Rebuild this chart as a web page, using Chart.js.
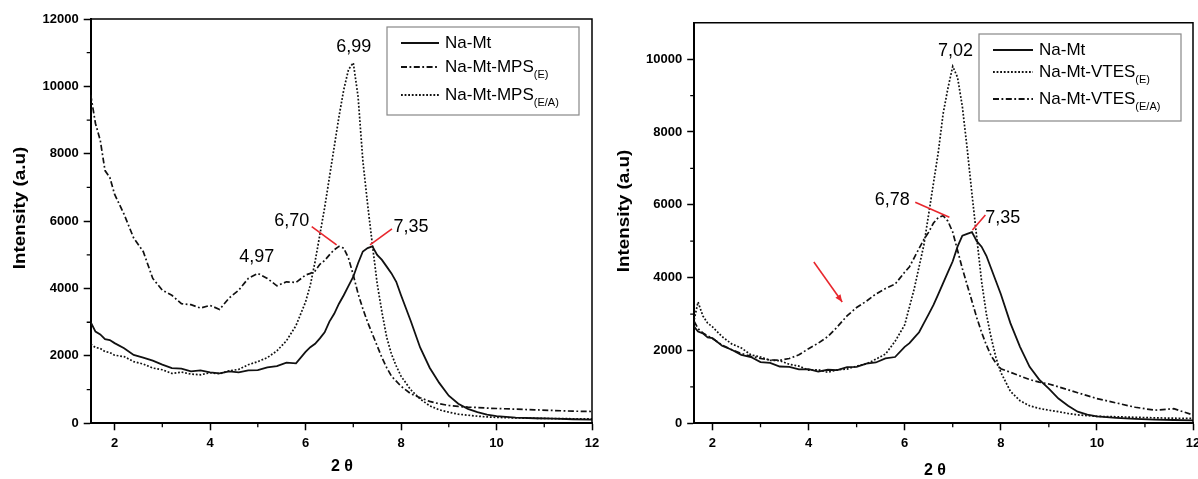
<!DOCTYPE html>
<html>
<head>
<meta charset="utf-8">
<script src="https://cdn.jsdelivr.net/npm/chart.js@4.4.1/dist/chart.umd.min.js"></script>
<style>
  body { margin: 0; background: #fff; width: 1198px; height: 479px; position: relative; overflow: hidden; }
  canvas { position: absolute; top: 0; }
</style>
</head>
<body>
<canvas id="left" width="620" height="479" style="left:0"></canvas>
<canvas id="right" width="620" height="479" style="left:600px"></canvas>
<script>
// ---- data ----
const xTicks = [2, 4, 6, 8, 10, 12];
const leftYTicks = [0, 2000, 4000, 6000, 8000, 10000, 12000];
const rightYTicks = [0, 2000, 4000, 6000, 8000, 10000];

const leftX = [1.5, 1.6, 1.7, 1.8, 1.9, 2.0, 2.2, 2.4, 2.6, 2.8, 3.0, 3.2, 3.4, 3.6, 3.8, 4.0, 4.2, 4.4, 4.6, 4.8,
  5.0, 5.2, 5.4, 5.6, 5.8, 6.0, 6.1, 6.2, 6.3, 6.4, 6.5, 6.6, 6.7, 6.8, 6.9, 7.0, 7.1, 7.2, 7.3, 7.4,
  7.5, 7.6, 7.7, 7.8, 7.9, 8.0, 8.2, 8.4, 8.6, 8.8, 9.0, 9.2, 9.4, 9.6, 9.8, 10.0, 10.4, 10.8, 11.2, 11.6, 12.0];
const leftNaMt = [3000, 2720, 2640, 2500, 2470, 2380, 2230, 2030, 1950, 1860, 1740, 1640, 1620, 1540, 1570, 1510, 1480, 1540, 1510, 1570,
  1580, 1660, 1700, 1800, 1780, 2120, 2260, 2360, 2520, 2700, 3020, 3250, 3550, 3800, 4080, 4350, 4750, 5100, 5200, 5250,
  5000, 4850, 4650, 4450, 4200, 3800, 3050, 2250, 1650, 1200, 820, 580, 430, 330, 260, 210, 170, 150, 140, 120, 110];
const leftMpsE = [9750, 8900, 8400, 7500, 7300, 6800, 6200, 5500, 5100, 4300, 3950, 3800, 3550, 3520, 3420, 3500, 3380, 3720, 3950, 4300,
  4450, 4300, 4080, 4200, 4180, 4400, 4450, 4520, 4720, 4830, 5000, 5150, 5250, 5200, 4900, 4400, 3850, 3400, 3000, 2650,
  2300, 1950, 1650, 1400, 1250, 1100, 880, 760, 650, 580, 530, 500, 480, 470, 450, 440, 420, 400, 380, 360, 350];
const leftMpsEA = [2350, 2250, 2220, 2130, 2100, 2020, 1980, 1830, 1760, 1640, 1590, 1480, 1520, 1460, 1440, 1500, 1470, 1560, 1600, 1740,
  1830, 1950, 2150, 2450, 2900, 3600, 4100, 4800, 5600, 6400, 7300, 8200, 9100, 9900, 10500, 10700, 9700, 7800, 6500, 5300,
  4150, 3300, 2550, 2050, 1700, 1400, 1000, 720, 520, 400, 330, 270, 240, 210, 190, 175, 160, 150, 140, 135, 130];

const rightX = [1.62, 1.7, 1.8, 1.9, 2.0, 2.2, 2.4, 2.6, 2.8, 3.0, 3.2, 3.4, 3.6, 3.8, 4.0, 4.2, 4.4, 4.6, 4.8,
  5.0, 5.2, 5.4, 5.6, 5.8, 6.0, 6.1, 6.2, 6.3, 6.4, 6.5, 6.6, 6.7, 6.8, 6.9, 7.0, 7.1, 7.2, 7.3, 7.4,
  7.5, 7.6, 7.7, 7.8, 7.9, 8.0, 8.2, 8.4, 8.6, 8.8, 9.0, 9.2, 9.4, 9.6, 9.8, 10.0, 10.4, 10.8, 11.2, 11.6, 12.0];
const rightNaMt = [2650, 2520, 2470, 2360, 2340, 2130, 2020, 1880, 1820, 1680, 1660, 1560, 1550, 1480, 1490, 1420, 1470, 1460, 1540,
  1550, 1640, 1670, 1780, 1820, 2100, 2200, 2350, 2500, 2750, 3000, 3250, 3550, 3850, 4150, 4450, 4850, 5150, 5200, 5250,
  5000, 4850, 4600, 4250, 3900, 3550, 2750, 2100, 1550, 1200, 950, 680, 480, 320, 240, 190, 150, 120, 100, 90, 80];
const rightVtesE = [2850, 3330, 2950, 2750, 2650, 2380, 2180, 2070, 1880, 1820, 1730, 1720, 1620, 1570, 1460, 1470, 1400, 1470, 1490,
  1570, 1630, 1760, 1900, 2250, 2700, 3200, 3700, 4300, 4900, 5750, 6600, 7450, 8500, 9200, 9800, 9500, 8700, 7550, 6300,
  5100, 3900, 3000, 2350, 1800, 1400, 880, 620, 480, 410, 360, 320, 270, 230, 210, 190, 180, 165, 150, 140, 135];
const rightVtesEA = [2800, 2600, 2480, 2400, 2330, 2150, 2020, 1920, 1840, 1780, 1740, 1730, 1780, 1880, 2050, 2200, 2380, 2650, 2950,
  3180, 3350, 3550, 3700, 3820, 4150, 4300, 4550, 4800, 5050, 5250, 5500, 5650, 5700, 5550, 5250, 4750, 4250, 3800, 3350,
  2900, 2500, 2150, 1850, 1650, 1500, 1400, 1300, 1200, 1130, 1080, 1000, 920, 840, 760, 680, 560, 440, 360, 400, 230];

const SOLID = [], DOT = [1.8, 1.8], DASHDOT = [6, 2.5, 1.8, 2.5];
const FONT = 'Arial, "Liberation Sans", sans-serif';
const RED = '#e8272d';

// draws frame, minor ticks, axis titles, legend and peak labels
const extrasPlugin = {
  id: 'extras',
  afterDraw(chart, args, o) {
    const { ctx, chartArea: a, scales: { x, y } } = chart;
    ctx.save();
    ctx.strokeStyle = '#000';
    ctx.lineWidth = 1.5;
    ctx.beginPath();
    ctx.moveTo(a.left, a.top);
    ctx.lineTo(a.right, a.top);
    ctx.lineTo(a.right, a.bottom);
    ctx.stroke();

    ctx.lineWidth = 1.3;
    ctx.beginPath();
    o.minorX.forEach(v => {
      const px = x.getPixelForValue(v);
      ctx.moveTo(px, a.bottom); ctx.lineTo(px, a.bottom + 4);
    });
    o.minorY.forEach(v => {
      const py = y.getPixelForValue(v);
      ctx.moveTo(a.left, py); ctx.lineTo(a.left - 4, py);
    });
    ctx.stroke();

    // axis titles
    ctx.fillStyle = '#000';
    ctx.textAlign = 'center';
    ctx.textBaseline = 'middle';
    ctx.font = 'bold 16px ' + FONT;
    ctx.save();
    ctx.translate(o.yTitle[0], o.yTitle[1]);
    ctx.rotate(-Math.PI / 2);
    ctx.scale(1.18, 1);
    ctx.fillText('Intensity (a.u)', 0, 0);
    ctx.restore();
    ctx.font = 'bold 16px ' + FONT;
    ctx.fillText('2 θ', o.xTitle[0], o.xTitle[1]);

    // legend
    const L = o.legend;
    ctx.strokeStyle = '#888';
    ctx.lineWidth = 1.2;
    ctx.strokeRect(L.box[0], L.box[1], L.box[2] - L.box[0], L.box[3] - L.box[1]);
    chart.data.datasets.forEach((ds, i) => {
      const ry = L.rows[i];
      ctx.strokeStyle = '#111';
      ctx.lineWidth = 1.8;
      ctx.setLineDash(ds.borderDash);
      ctx.beginPath();
      ctx.moveTo(L.sample[0], ry); ctx.lineTo(L.sample[1], ry);
      ctx.stroke();
      ctx.setLineDash([]);
      ctx.textAlign = 'left';
      ctx.font = '17px ' + FONT;
      ctx.fillText(ds.label, L.textX, ry);
      if (ds.sub) {
        const w = ctx.measureText(ds.label).width;
        ctx.font = '11px ' + FONT;
        ctx.fillText(ds.sub, L.textX + w, ry + 8);
      }
    });

    // peak labels and red pointers
    ctx.font = '18px ' + FONT;
    ctx.textAlign = 'center';
    o.peaks.forEach(p => {
      ctx.fillText(p.text, x.getPixelForValue(p.at[0]), y.getPixelForValue(p.at[1]));
    });
    ctx.strokeStyle = RED;
    ctx.fillStyle = RED;
    ctx.lineWidth = 1.6;
    o.pointers.forEach(p => {
      const x0 = x.getPixelForValue(p.from[0]), y0 = y.getPixelForValue(p.from[1]);
      const x1 = x.getPixelForValue(p.to[0]), y1 = y.getPixelForValue(p.to[1]);
      ctx.beginPath(); ctx.moveTo(x0, y0); ctx.lineTo(x1, y1); ctx.stroke();
      if (p.head) {
        const ang = Math.atan2(y1 - y0, x1 - x0);
        ctx.beginPath();
        ctx.moveTo(x1, y1);
        ctx.lineTo(x1 - 8 * Math.cos(ang - 0.4), y1 - 8 * Math.sin(ang - 0.4));
        ctx.lineTo(x1 - 8 * Math.cos(ang + 0.4), y1 - 8 * Math.sin(ang + 0.4));
        ctx.closePath(); ctx.fill();
      }
    });
    ctx.restore();
  }
};

function series(xs, ys, label, sub, dash) {
  return {
    label, sub,
    data: xs.map((v, i) => ({ x: v, y: ys[i] })),
    borderColor: '#111',
    borderWidth: dash.length ? 1.7 : 1.8,
    borderDash: dash,
    pointRadius: 0,
    tension: 0,
    fill: false,
  };
}

function makeChart(id, datasets, cfg) {
  const tickFont = { family: FONT, size: 13, weight: 'bold' };
  const grid = { drawOnChartArea: false, drawTicks: true, tickLength: 7, tickWidth: 1.5, tickColor: '#000' };
  return new Chart(document.getElementById(id), {
    type: 'line',
    data: { datasets },
    options: {
      responsive: false,
      animation: false,
      layout: { padding: cfg.padding },
      plugins: { legend: { display: false }, tooltip: { enabled: false }, extras: cfg.extras },
      scales: {
        x: {
          type: 'linear', min: cfg.xMin, max: 12,
          afterFit: s => { s.height = cfg.xHeight; },
          afterBuildTicks: s => { s.ticks = xTicks.map(v => ({ value: v })); },
          border: { display: true, color: '#000', width: 2 },
          grid,
          ticks: { maxRotation: 0, autoSkip: false, padding: 5, color: '#000', font: tickFont, callback: v => String(v) },
        },
        y: {
          min: 0, max: cfg.yMax,
          afterFit: s => { s.width = cfg.yWidth; },
          afterBuildTicks: s => { s.ticks = cfg.yTicks.map(v => ({ value: v })); },
          border: { display: true, color: '#000', width: 2 },
          grid,
          ticks: { padding: 5, color: '#000', font: tickFont, callback: v => String(v) },
        },
      },
    },
    plugins: [extrasPlugin],
  });
}

makeChart('left', [
  series(leftX, leftNaMt, 'Na-Mt', '', SOLID),
  series(leftX, leftMpsE, 'Na-Mt-MPS', '(E)', DASHDOT),
  series(leftX, leftMpsEA, 'Na-Mt-MPS', '(E/A)', DOT),
], {
  padding: { left: 8, top: 19, right: 28, bottom: 0 },
  xMin: 1.5, yMax: 12000, yTicks: leftYTicks, yWidth: 82.7, xHeight: 55.7,
  extras: {
    minorX: [3, 5, 7, 9, 11],
    minorY: [1000, 3000, 5000, 7000, 9000, 11000],
    yTitle: [21, 208], xTitle: [342, 467],
    legend: { box: [387, 27, 579, 115], rows: [43, 67, 95], sample: [401, 439], textX: 445 },
    peaks: [
      { text: '6,99', at: [7.01, 11180] },
      { text: '4,97', at: [4.98, 4940] },
      { text: '6,70', at: [5.71, 5990] },
      { text: '7,35', at: [8.21, 5840] },
    ],
    pointers: [
      { from: [6.13, 5840], to: [6.65, 5295] },
      { from: [7.81, 5770], to: [7.35, 5295] },
    ],
  },
});

makeChart('right', [
  series(rightX, rightNaMt, 'Na-Mt', '', SOLID),
  series(rightX, rightVtesE, 'Na-Mt-VTES', '(E)', DOT),
  series(rightX, rightVtesEA, 'Na-Mt-VTES', '(E/A)', DASHDOT),
], {
  padding: { left: 8, top: 22.7, right: 27, bottom: 0 },
  xMin: 1.62, yMax: 11000, yTicks: rightYTicks, yWidth: 86.2, xHeight: 55.7,
  extras: {
    minorX: [3, 5, 7, 9, 11],
    minorY: [1000, 3000, 5000, 7000, 9000],
    yTitle: [25, 211], xTitle: [335, 471],
    legend: { box: [379, 34, 581, 121], rows: [50, 72, 99], sample: [393, 433], textX: 439 },
    peaks: [
      { text: '7,02', at: [7.06, 10230] },
      { text: '6,78', at: [5.74, 6120] },
      { text: '7,35', at: [8.04, 5625] },
    ],
    pointers: [
      { from: [6.22, 6070], to: [6.93, 5660] },
      { from: [7.68, 5720], to: [7.41, 5310] },
      { from: [4.11, 4430], to: [4.70, 3330], head: true },
    ],
  },
});
</script>
</body>
</html>
